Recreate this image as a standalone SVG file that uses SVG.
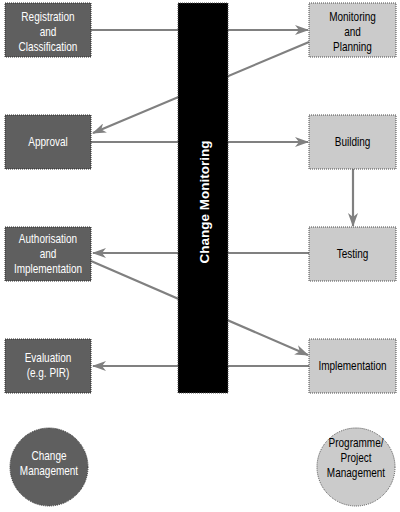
<svg xmlns="http://www.w3.org/2000/svg" width="400" height="512" viewBox="0 0 400 512">
<defs>
<style>
.dark{fill:#5f5f5f;stroke:#2a2a2a;stroke-width:1;stroke-dasharray:1,1}
.light{fill:#cbcbcb;stroke:#4a4a4a;stroke-width:1;stroke-dasharray:1,1}
.bar{fill:#000;stroke:#555;stroke-width:1;stroke-dasharray:1,1}
.tw{font-family:"Liberation Sans",Arial,sans-serif;font-size:12.5px;fill:#fff;text-anchor:middle}
.tb{font-family:"Liberation Sans",Arial,sans-serif;font-size:12.5px;fill:#000;text-anchor:middle}
.conn{stroke:#808080;stroke-width:2.2;fill:none}
</style>
<marker id="ah" viewBox="0 0 14 10" refX="13" refY="5" markerWidth="14" markerHeight="10" markerUnits="userSpaceOnUse" orient="auto">
<path d="M0,0 L14,5 L0,10 L4,5 z" fill="#808080"/>
</marker>
</defs>
<rect width="400" height="512" fill="#fff"/>
<g id="connectors">
<line class="conn" x1="91" y1="30" x2="308" y2="30" marker-end="url(#ah)"/>
<line class="conn" x1="309" y1="42" x2="93" y2="133" marker-end="url(#ah)"/>
<line class="conn" x1="91" y1="142" x2="308" y2="142" marker-end="url(#ah)"/>
<line class="conn" x1="353" y1="169" x2="353" y2="226" marker-end="url(#ah)"/>
<line class="conn" x1="309" y1="253" x2="93" y2="253" marker-end="url(#ah)"/>
<line class="conn" x1="91" y1="261" x2="308" y2="355" marker-end="url(#ah)"/>
<line class="conn" x1="309" y1="366" x2="93" y2="366" marker-end="url(#ah)"/>
</g>
<g id="change-monitoring">
<rect class="bar" x="178" y="3" width="50" height="390"/>
<text x="0" y="0" transform="translate(208.5,202) rotate(-90)" font-family="'Liberation Sans',sans-serif" font-weight="bold" font-size="13.5" fill="#fff" text-anchor="middle">Change Monitoring</text>
</g>
<g id="registration">
<rect class="dark" x="5" y="3" width="86" height="54"/>
<g transform="translate(48 0) scale(0.8 1)">
<text class="tw" x="0" y="21">Registration</text>
<text class="tw" x="0" y="36">and</text>
<text class="tw" x="0" y="51">Classification</text>
</g>
</g>
<g id="approval">
<rect class="dark" x="5" y="115" width="86" height="54"/>
<g transform="translate(48 0) scale(0.8 1)">
<text class="tw" x="0" y="146">Approval</text>
</g>
</g>
<g id="authorisation">
<rect class="dark" x="5" y="227" width="86" height="54"/>
<g transform="translate(48 0) scale(0.8 1)">
<text class="tw" x="0" y="243">Authorisation</text>
<text class="tw" x="0" y="258">and</text>
<text class="tw" x="0" y="273">Implementation</text>
</g>
</g>
<g id="evaluation">
<rect class="dark" x="5" y="339" width="86" height="54"/>
<g transform="translate(48 0) scale(0.8 1)">
<text class="tw" x="0" y="362">Evaluation</text>
<text class="tw" x="0" y="377">(e.g. PIR)</text>
</g>
</g>
<g id="monitoring">
<rect class="light" x="309" y="3" width="87" height="54"/>
<g transform="translate(352.5 0) scale(0.8 1)">
<text class="tb" x="0" y="21">Monitoring</text>
<text class="tb" x="0" y="36">and</text>
<text class="tb" x="0" y="51">Planning</text>
</g>
</g>
<g id="building">
<rect class="light" x="309" y="115" width="87" height="54"/>
<g transform="translate(352.5 0) scale(0.8 1)">
<text class="tb" x="0" y="146">Building</text>
</g>
</g>
<g id="testing">
<rect class="light" x="309" y="227" width="87" height="54"/>
<g transform="translate(352.5 0) scale(0.8 1)">
<text class="tb" x="0" y="258">Testing</text>
</g>
</g>
<g id="implementation">
<rect class="light" x="309" y="339" width="87" height="54"/>
<g transform="translate(352.5 0) scale(0.8 1)">
<text class="tb" x="0" y="370">Implementation</text>
</g>
</g>
<g id="change-management">
<circle class="dark" cx="49" cy="467" r="39"/>
<g transform="translate(49 0) scale(0.8 1)">
<text class="tw" x="0" y="460">Change</text>
<text class="tw" x="0" y="475">Management</text>
</g>
</g>
<g id="programme-management">
<circle class="light" cx="356" cy="467" r="39"/>
<g transform="translate(356 0) scale(0.8 1)">
<text class="tb" x="0" y="447">Programme/</text>
<text class="tb" x="0" y="462">Project</text>
<text class="tb" x="0" y="477">Management</text>
</g>
</g>
</svg>
